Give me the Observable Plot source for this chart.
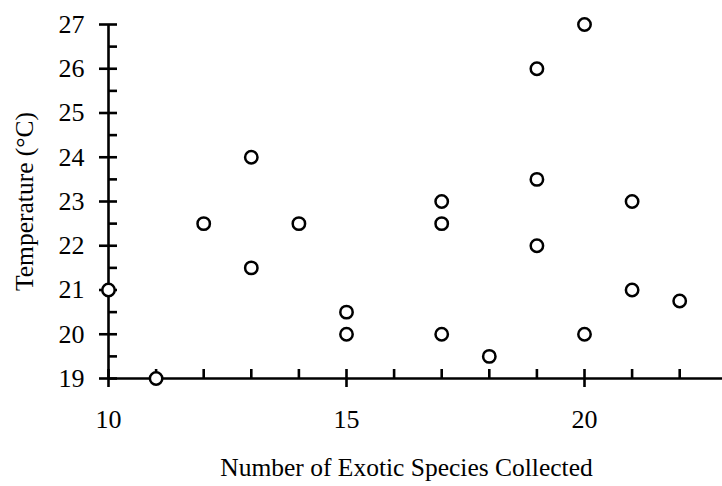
<!DOCTYPE html>
<html><head><meta charset="utf-8">
<script src="https://cdn.jsdelivr.net/npm/d3@7"></script>
<script src="https://cdn.jsdelivr.net/npm/@observablehq/plot@0.6"></script>
<style>html,body{margin:0;padding:0;background:#fff;overflow:hidden;}</style>
</head><body><div id="chart"></div>
<script>
const species = [10, 11, 12, 13, 13, 14, 15, 15, 17, 17, 17, 18, 19, 19, 19, 20, 20, 21, 21, 22];
const temperature = [21, 19, 22.5, 24, 21.5, 22.5, 20.5, 20, 23, 22.5, 20, 19.5, 26, 23.5, 22, 27, 20, 23, 21, 20.75];
const xMajorTicks = [10, 15, 20];
const xMinorTicks = [11, 12, 13, 14, 16, 17, 18, 19, 21, 22];
const yMajorTicks = [19, 20, 21, 22, 23, 24, 25, 26, 27];
const yMinorTicks = [19.5, 20.5, 21.5, 22.5, 23.5, 24.5, 25.5, 26.5];
const xTitle = "Number of Exotic Species Collected";
const yTitle = "Temperature (°C)";

const points = species.map((s, i) => ({species: s, temperature: temperature[i]}));
const font = "'Liberation Serif', 'Times New Roman', Times, serif";
const sw = 2.6;

const chart = Plot.plot({
  width: 722, height: 486,
  marginLeft: 108, marginTop: 24, marginBottom: 108, marginRight: 0,
  style: {fontFamily: font, fontSize: "26px", color: "#000", background: "#fff"},
  x: {domain: [10, 23], range: [108, 726.8]},
  y: {domain: [19, 27], range: [378, 24]},
  marks: [
    Plot.ruleX([10], {y1: 19, y2: 27, stroke: "#000", strokeWidth: sw}),
    Plot.ruleY([19], {x1: 10, x2: 23, stroke: "#000", strokeWidth: sw}),
    Plot.axisY(yMajorTicks, {anchor: "left", tickSize: 18, dx: 9, tickFormat: () => "", strokeWidth: sw, label: null}),
    Plot.axisY(yMinorTicks, {anchor: "left", tickSize: 9, dx: 9, tickFormat: () => "", strokeWidth: sw, label: null}),
    Plot.axisY(yMajorTicks, {anchor: "left", tickSize: 0, tickPadding: 24, fontSize: 26, label: null}),
    Plot.axisX(xMajorTicks, {anchor: "bottom", tickSize: 18, dy: -9, tickFormat: () => "", strokeWidth: sw, label: null}),
    Plot.axisX(xMinorTicks, {anchor: "bottom", tickSize: 9, dy: -9, tickFormat: () => "", strokeWidth: sw, label: null}),
    Plot.axisX(xMajorTicks, {anchor: "bottom", tickSize: 0, tickPadding: 31, fontSize: 26, label: null}),
    Plot.text([xTitle], {frameAnchor: "bottom", dy: 97, dx: -9, fontSize: 25.5, fill: "#000"}),
    Plot.text([yTitle], {frameAnchor: "left", rotate: -90, textAnchor: "middle", dx: -84, fontSize: 25.5, fill: "#000"}),
    Plot.dot(points, {x: "species", y: "temperature", r: 6.2, stroke: "#000", strokeWidth: 2.5, fill: "#fff"})
  ]
});
document.getElementById("chart").appendChild(chart);
</script>
</body></html>
